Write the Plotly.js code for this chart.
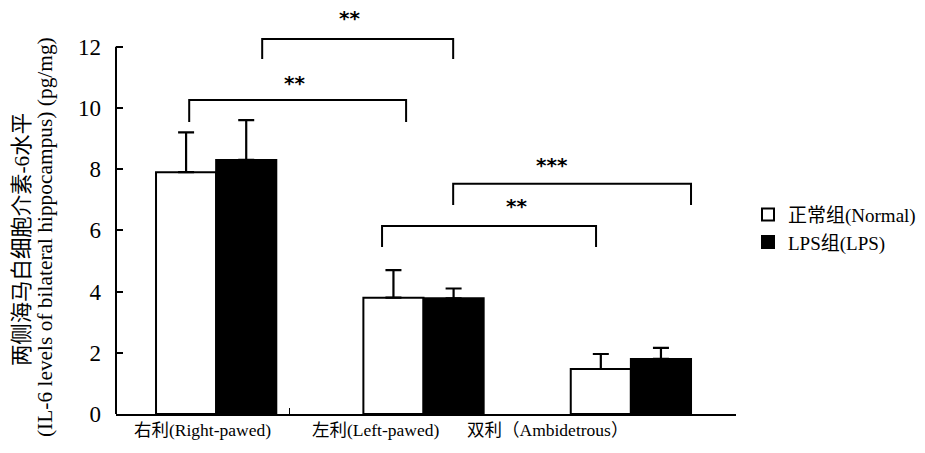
<!DOCTYPE html>
<html>
<head>
<meta charset="utf-8">
<script src="https://cdn.plot.ly/plotly-3.0.1.min.js"></script>
<style>html,body{margin:0;padding:0;background:#fff;}#chart{width:925px;height:453px;}</style>
</head>
<body>
<div id="chart"></div>
<script>
// ---- data ----
const categories = ["右利(Right-pawed)", "左利(Left-pawed)", "双利（Ambidetrous）"];
const seriesNames = ["正常组(Normal)", "LPS组(LPS)"];
const normalMeans = [7.9, 3.8, 1.47];
const normalErr = [1.3, 0.9, 0.49];
const lpsMeans = [8.3, 3.78, 1.8];
const lpsErr = [1.3, 0.32, 0.36];
const yTicks = [0, 2, 4, 6, 8, 10, 12];
// significance brackets: [x start, x end, top y, bottom y]
const bracketX0 = [-0.130, 0.222, 0.800, 1.143];
const bracketX1 = [0.916, 1.143, 1.832, 2.290];
const bracketTop = [10.26, 12.25, 6.14, 7.52];
const bracketEnd = [9.54, 11.6, 5.46, 6.83];
const starText = ["**", "**", "**", "***"];
const starX = [0.376, 0.641, 1.446, 1.62];
const starY = [10.8, 12.95, 6.8, 8.15];
const yTitleLines = ["两侧海马白细胞介素-6水平", "(IL-6 levels of bilateral hippocampus) (pg/mg)"];

const xPos = categories.map((c, i) => i);
const FONT = "'Liberation Serif', 'Times New Roman', 'Noto Sans CJK SC', serif";

const traces = [
  {
    type: "bar", name: seriesNames[0], x: xPos, y: normalMeans,
    marker: {color: "#ffffff", line: {color: "#000000", width: 2}},
    error_y: {type: "data", symmetric: false, array: normalErr, arrayminus: normalErr.map(() => 0),
              color: "#000000", thickness: 2.2, width: 8}
  },
  {
    type: "bar", name: seriesNames[1], x: xPos, y: lpsMeans,
    marker: {color: "#000000", line: {color: "#000000", width: 2}},
    error_y: {type: "data", symmetric: false, array: lpsErr, arrayminus: lpsErr.map(() => 0),
              color: "#000000", thickness: 2.2, width: 8}
  }
];

const shapes = [];
const annotations = [];
for (let i = 0; i < bracketX0.length; i++) {
  shapes.push({type: "path", xref: "x", yref: "y",
    path: `M ${bracketX0[i]},${bracketEnd[i]} L ${bracketX0[i]},${bracketTop[i]} L ${bracketX1[i]},${bracketTop[i]} L ${bracketX1[i]},${bracketEnd[i]}`,
    line: {color: "#000", width: 2}});
  annotations.push({xref: "x", yref: "y", x: starX[i], y: starY[i], text: starText[i], showarrow: false,
    font: {family: "'DejaVu Sans', sans-serif", size: 20, color: "#000", weight: "bold"}, xanchor: "center", yanchor: "middle"});
}
// y axis line from 0 to 12
shapes.push({type: "line", xref: "paper", yref: "y", x0: 0, x1: 0, y0: 0, y1: 12, line: {color: "#000", width: 2}});

categories.forEach((c, i) => {
  annotations.push({xref: "x", yref: "paper", x: [-0.068, 0.768, 1.6][i], y: -0.01, yanchor: "top", xanchor: "center",
    text: c, showarrow: false, font: {family: FONT, size: 17.5, color: "#000"}});
});
annotations.push({xref: "paper", yref: "paper", x: -0.1162, y: 0.433, xanchor: "center", yanchor: "middle",
  textangle: -90, showarrow: false, text: yTitleLines[0], font: {family: FONT, size: 21.4, color: "#000"}});
annotations.push({xref: "paper", yref: "paper", x: -0.0878, y: 0.438, xanchor: "center", yanchor: "middle",
  textangle: -90, showarrow: false, text: yTitleLines[1], font: {family: FONT, size: 21.4, color: "#000"}});

const layout = {
  width: 925, height: 453,
  margin: {l: 116, r: 0, t: 10, b: 39},
  paper_bgcolor: "#fff", plot_bgcolor: "#fff",
  barmode: "group", bargap: 0.42, bargroupgap: 0,
  font: {family: FONT, color: "#000"},
  xaxis: {domain: [0, 0.7664], range: [-0.483, 2.507], showgrid: false, zeroline: false, showline: true, linecolor: "#000", linewidth: 2,
          ticks: "inside", tickvals: [0.353, 1.184, 2.507], ticktext: ["", "", ""], ticklen: 6, tickwidth: 1.5, tickcolor: "#000"},
  yaxis: {range: [0, 13.2], showgrid: false, zeroline: false, showline: false,
          ticks: "inside", tickvals: yTicks, ticktext: yTicks.map(String), ticklen: 7, tickwidth: 2, tickcolor: "#000",
          tickfont: {family: FONT, size: 23, color: "#000"}, ticklabelstandoff: 14},
  showlegend: true,
  legend: {x: 0.7812, y: 0.459, xanchor: "left", yanchor: "middle", font: {family: FONT, size: 19, color: "#000"},
           bgcolor: "rgba(0,0,0,0)", tracegroupgap: 0, traceorder: "normal"},
  shapes: shapes,
  annotations: annotations
};

Plotly.newPlot("chart", traces, layout, {displayModeBar: false, staticPlot: true});
</script>
</body>
</html>
